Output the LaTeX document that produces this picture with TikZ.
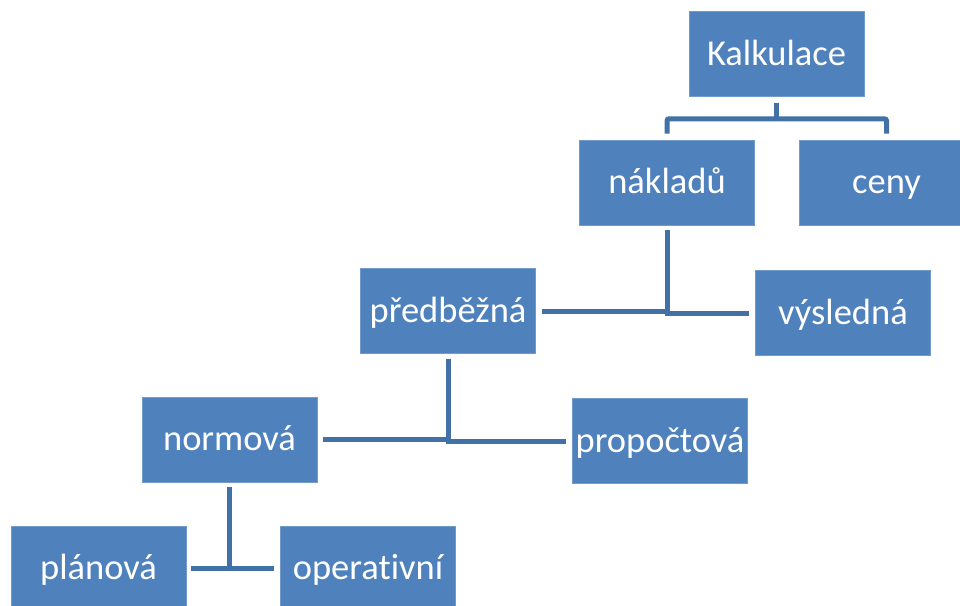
\documentclass[tikz,border=0pt]{standalone}
\usepackage{fontspec}
\setmainfont{Carlito}[Ligatures=NoCommon]
\usetikzlibrary{calc}
\definecolor{boxblue}{RGB}{79,129,189}
\definecolor{lineblue}{RGB}{65,113,166}
\begin{document}
\begin{tikzpicture}[x=1pt,y=-1pt,
  box/.style={rectangle, fill=boxblue, draw=boxblue!80!white, line width=0.6pt, text=white,
    minimum width=175pt, minimum height=85pt, inner sep=0pt,
    text height=22pt, text depth=0pt,
    font=\fontsize{36.5}{40}\selectfont},
  conn/.style={draw=lineblue, line width=5pt}]
\useasboundingbox (0,0) rectangle (960,605);
\clip (0,0) rectangle (960,605);
\node[box] (kalk) at (776.5,54) {Kalkulace};
\node[box] (nakl) at (667,182.5) {nákladů};
\node[box] (ceny) at (886.5,182.5) {ceny};
\node[box] (pred) at (448,311) {předběžná};
\node[box] (vysl) at (843,313) {výsledná};
\node[box] (norm) at (229.5,439.5) {normová};
\node[box] (prop) at (660,441) {propočtová};
\node[box] (plan) at (98.5,568.5) {plánová};
\node[box] (oper) at (368,568.5) {operativní};
% Kalkulace -> nákladů, ceny
\coordinate (j1) at ($(kalk.south)+(0,22)$);
\draw[conn] ($(kalk.south)+(0,6)$) -- (j1);
\draw[conn, rounded corners=2pt] ($(nakl.north)+(0,-6)$) |- (j1) -| ($(ceny.north)+(0,-6)$);
% nákladů -> předběžná, výsledná
\draw[conn] ($(pred.east)+(6,0)$) -- (nakl.south |- pred.east);
\draw[conn] ($(nakl.south)+(0,5)$) |- ($(vysl.west)+(-6,0)$);
% předběžná -> normová, propočtová
\draw[conn] ($(norm.east)+(6,0)$) -- (pred.south |- norm.east);
\draw[conn] ($(pred.south)+(0,5)$) |- ($(prop.west)+(-6,0)$);
% normová -> plánová, operativní
\draw[conn] ($(norm.south)+(0,5)$) -- (norm.south |- plan.east);
\draw[conn] ($(plan.east)+(5,0)$) -- ($(oper.west)+(-6,0)$);
\end{tikzpicture}
\end{document}
